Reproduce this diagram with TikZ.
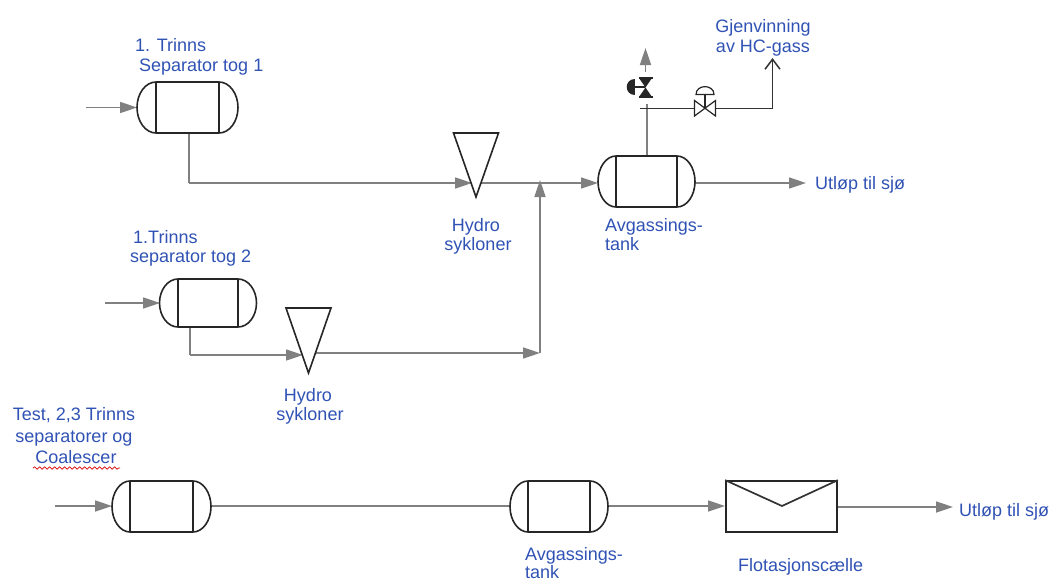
\documentclass[tikz,border=0pt]{standalone}
\usepackage{fontspec}
\setmainfont{Liberation Sans}
\usetikzlibrary{arrows.meta,decorations.pathmorphing}
\definecolor{pipe}{HTML}{808080}
\definecolor{ink}{HTML}{262626}
\definecolor{lab}{HTML}{2F52B4}
\tikzset{
  vesselbody/.style={inner sep=0pt,outer sep=0pt,minimum width=#1,minimum height=51pt},
  vesselline/.style={draw=ink,line width=1.6pt},
  pipeline/.style={draw=pipe,line width=1.7pt},
  flowline/.style={pipeline,-{Triangle[length=17pt,width=11pt,fill=pipe]}},
  darkline/.style={draw=ink!85!gray,line width=1.7pt},
  lbl/.style={text=lab,font=\fontsize{18}{21}\selectfont,inner sep=0pt,anchor=base west},
  lblc/.style={text=lab,font=\fontsize{18}{21}\selectfont,inner sep=0pt,anchor=base},
  cone/.style={draw=ink,line width=1.6pt,fill=white,line join=miter},
}
% name, centre x, centre y, half width, half tangent distance, half height
\newcommand{\vessel}[6]{%
  \node[vesselbody=#4*2pt,minimum height=#6*2pt] (#1) at (#2,#3) {};
  \draw[vesselline]
    (#2-#5,#3-#6) -- (#2+#5,#3-#6)
    .. controls (#2+#5+0.55*#4-0.55*#5,#3-#6) and (#2+#4,#3-#6*0.55) .. (#2+#4,#3)
    .. controls (#2+#4,#3+#6*0.55) and (#2+#5+0.55*#4-0.55*#5,#3+#6) .. (#2+#5,#3+#6)
    -- (#2-#5,#3+#6)
    .. controls (#2-#5-0.55*#4+0.55*#5,#3+#6) and (#2-#4,#3+#6*0.55) .. (#2-#4,#3)
    .. controls (#2-#4,#3-#6*0.55) and (#2-#5-0.55*#4+0.55*#5,#3-#6) .. (#2-#5,#3-#6) -- cycle;
  \draw[vesselline] (#2-#5,#3-#6) -- (#2-#5,#3+#6) (#2+#5,#3-#6) -- (#2+#5,#3+#6);
}
\begin{document}
\begin{tikzpicture}[x=1pt,y=-1pt]
\useasboundingbox (0,0) rectangle (1049,581);

% free ends
\coordinate (in1) at (86,107.5);
\coordinate (in2) at (105,303);
\coordinate (in3) at (55,506);
\coordinate (out1) at (806,183);
\coordinate (out2) at (953,507);
\coordinate (b1) at (189,183);
\coordinate (b2) at (190,355);
\coordinate (j1) at (540,353);
\coordinate (j2) at (540,180);
\coordinate (top) at (647,104);
\coordinate (ventend) at (645.5,48);
\coordinate (ventstart) at (645.5,72);
\coordinate (gasstart) at (640,108.5);
\coordinate (gascorner) at (772.5,108.5);
\coordinate (gasend) at (772.5,58);

% pipes drawn first
\draw[flowline] (in1) -- (137,107.5);
\draw[flowline] (in2) -- (160,303);
\draw[flowline] (in3) -- (112,506);
\draw[pipeline] (189,133) -- (b1);
\draw[flowline] (b1) -- (472,183);
\draw[flowline] (480,183) -- (598,183);
\draw[flowline] (j1) -- (j2);
\draw[pipeline] (190,327) -- (b2);
\draw[flowline] (b2) -- (303,355);
\draw[flowline] (316,353) -- (j1);
\draw[pipeline] (211,506) -- (510,506);
\draw[flowline] (608,506) -- (725,506);
\draw[flowline] (837,507) -- (out2);
\draw[flowline] (695,183) -- (out1);
\draw[pipeline] (647,156) -- (top);
\draw[flowline] (ventstart) -- (ventend);

% vessels
\vessel{v1}{187.5}{107.5}{50.5}{31.5}{25.5}
\vessel{v2}{208}{303}{48.5}{30}{24}
\vessel{v3}{161.5}{506.5}{49.5}{31.5}{25.5}
\vessel{v4}{559}{506.5}{49}{31}{25.5}
\vessel{v5}{646.5}{181.5}{48.5}{30.5}{25.5}

% cyclones
\node[inner sep=0pt,minimum size=0pt] (c1) at (476,165) {};
\draw[cone] (453.5,133) -- (498.5,133) -- (476,197) -- cycle;
\node[inner sep=0pt,minimum size=0pt] (c2) at (308.5,340) {};
\draw[cone] (286,308) -- (331,308) -- (308.5,373) -- cycle;

% flotation cell
\node[draw=ink,line width=1.7pt,minimum width=111pt,minimum height=51pt,inner sep=0pt] (flot) at (781.5,506.5) {};
\draw[darkline] (flot.north west) -- (782,506) -- (flot.north east);

% gas line and valves
\draw[darkline] (gasstart) -- (gascorner);
\draw[darkline,-{Straight Barb[length=10pt,width=15pt,line width=1.5pt]}] (gascorner) -- (gasend);
\node[inner sep=0pt,minimum size=0pt] (cv) at (705,108.5) {};
\draw[draw=ink,line width=1.2pt,fill=white] (694.5,100.5) -- (715.5,116) -- (715.5,100.5) -- (694.5,116) -- cycle;
\draw[draw=ink,line width=1.2pt] (cv) -- (705,94);
\draw[draw=ink,line width=1.2pt,fill=white] (696,94.5) .. controls (696,84) and (714,84) .. (714,94.5) -- cycle;
\node[inner sep=0pt,minimum size=0pt] (bv) at (645.5,87) {};
\fill[ink] (639,78) -- (652,78) -- (639,97) -- (652,97) -- cycle;
\draw[ink,line width=1.5pt] (638.5,78) -- (652.5,78) (638.5,97) -- (652.5,97);
\draw[ink,line width=1.5pt] (634,87) -- (bv);
\fill[ink] (635,79) .. controls (624,79) and (624,95) .. (635,95) -- cycle;

% labels
\node[lbl] (t1a) at (135,51.5) {1. Trinns};
\node[lbl] (t1b) at (139,71) {Separator tog 1};
\node[lbl] (t2a) at (133,243) {1.Trinns};
\node[lbl] (t2b) at (130,262) {separator tog 2};
\node[lblc] (h1a) at (476,231) {Hydro};
\node[lblc] (h1b) at (478,250) {sykloner};
\node[lbl] (a1a) at (605,231) {Avgassings-};
\node[lbl] (a1b) at (605,250) {tank};
\node[lblc] (h2a) at (308,401) {Hydro};
\node[lblc] (h2b) at (310,420) {sykloner};
\node[lblc] (tsa) at (74,420) {Test, 2,3 Trinns};
\node[lblc] (tsb) at (74,442) {separatorer og};
\node[lblc] (tsc) at (76,463) {Coalescer};
\draw[red!85!black,line width=0.7pt,decorate,decoration={snake,amplitude=1.2pt,segment length=5pt}] (33,468) -- (120,468);
\node[lbl] (a2a) at (525,560) {Avgassings-};
\node[lbl] (a2b) at (525,578) {tank};
\node[lbl] (fl) at (738,571) {Flotasjonscælle};
\node[lbl] (u1) at (815,189) {Utløp til sjø};
\node[lbl] (u2) at (959,516) {Utløp til sjø};
\node[lblc] (g1) at (763,32) {Gjenvinning};
\node[lblc] (g2) at (763,52) {av HC-gass};
\end{tikzpicture}
\end{document}
